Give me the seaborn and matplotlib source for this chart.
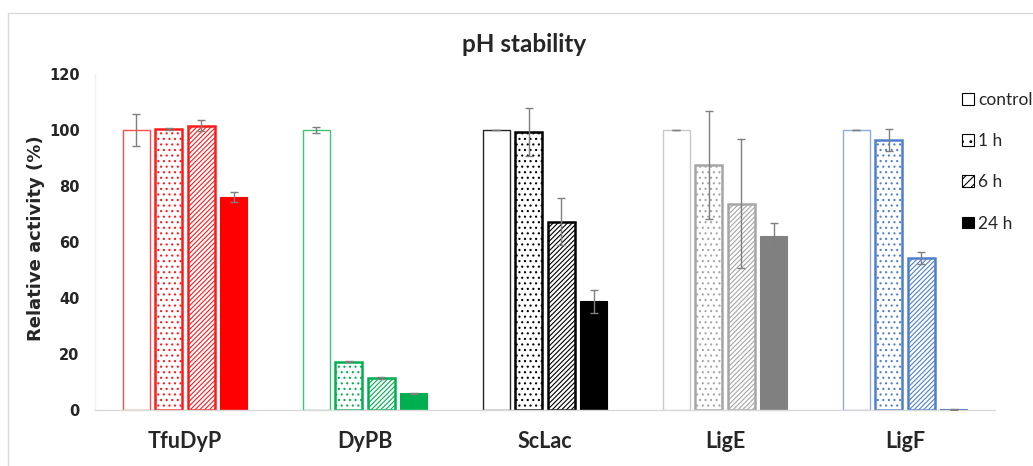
import numpy as np
import pandas as pd
import matplotlib
matplotlib.use("Agg")
import matplotlib.pyplot as plt
from matplotlib.patches import Patch, Rectangle
import seaborn as sns

# Relative activity (%) after incubation, per enzyme and time point
enzymes = ["TfuDyP", "DyPB", "ScLac", "LigE", "LigF"]
times = ["control", "1 h", "6 h", "24 h"]

activity_control = [100.0, 99.9, 100.0, 100.0, 100.0]
activity_1h = [100.3, 17.3, 99.3, 87.4, 96.3]
activity_6h = [101.5, 11.5, 67.3, 73.7, 54.3]
activity_24h = [76.1, 6.0, 38.8, 62.3, 0.3]

sd_control = [5.8, 1.0, 0.0, 0.0, 0.0]
sd_1h = [0.3, 0.3, 8.5, 19.3, 3.9]
sd_6h = [2.0, 0.3, 8.5, 23.0, 2.2]
sd_24h = [1.7, 0.2, 4.2, 4.6, 0.2]

y_ticks = [0, 20, 40, 60, 80, 100, 120]

# per-enzyme colours: solid fill, control outline, patterned outline/hatch
fill_colors = ["#FF0000", "#00B050", "#000000", "#808080", "#4472C4"]
control_edges = ["#FF4D4D", "#3DC27A", "#262626", "#C8C8C8", "#8FAADC"]
pattern_edges = ["#FF1A1A", "#00B050", "#000000", "#A6A6A6", "#4F7FCC"]
hatches = [None, "...", "///////", None]

activities = [activity_control, activity_1h, activity_6h, activity_24h]
sds = [sd_control, sd_1h, sd_6h, sd_24h]

rows = []
for t, vals, errs in zip(times, activities, sds):
    for e, v, s in zip(enzymes, vals, errs):
        rows.append({"enzyme": e, "time": t, "activity": v, "sd": s})
df = pd.DataFrame(rows)

sns.set_theme(style="white")
plt.rcParams["hatch.linewidth"] = 0.8

W, H = 1033, 466
fig = plt.figure(figsize=(W / 100, H / 100), dpi=100)
fig.patch.set_facecolor("white")
ax = fig.add_axes([95 / W, 1 - 410 / H, 900 / W, 336 / H])

sns.barplot(data=df, x="enzyme", y="activity", hue="time",
            order=enzymes, hue_order=times, width=0.72, gap=0.17,
            errorbar=None, legend=False, ax=ax)

# identify each bar by category and position within its group
bars = [p for p in ax.patches if p.get_width() > 0]
by_cat = {}
for p in bars:
    cx = p.get_x() + p.get_width() / 2
    by_cat.setdefault(int(round(cx)), []).append(p)

err_x, err_y, err_s = [], [], []
for ci, plist in by_cat.items():
    plist.sort(key=lambda p: p.get_x())
    for hi, p in enumerate(plist):
        if hi == 0:
            p.set_facecolor("white")
            p.set_edgecolor(control_edges[ci])
            p.set_linewidth(1.0)
        elif hi in (1, 2):
            p.set_facecolor("white")
            p.set_edgecolor(pattern_edges[ci])
            p.set_hatch(hatches[hi])
            p.set_linewidth(1.8)
        else:
            p.set_facecolor(fill_colors[ci])
            p.set_edgecolor(fill_colors[ci])
            p.set_linewidth(0.8)
        err_x.append(p.get_x() + p.get_width() / 2)
        err_y.append(p.get_height())
        err_s.append(sds[hi][ci])

ax.errorbar(err_x, err_y, yerr=err_s, fmt="none", ecolor="#7F7F7F",
            elinewidth=1.0, capsize=3, capthick=1.0, zorder=5)

ax.set_ylim(0, 120)
ax.set_xlim(-0.5, len(enzymes) - 0.5)
ax.set_yticks(y_ticks)
ax.set_yticklabels([str(v) for v in y_ticks], fontsize=10.5,
                   fontweight="bold", family="DejaVu Sans")
ax.set_xticks(range(len(enzymes)))
ax.set_xticklabels(enzymes, fontsize=15.5, fontweight="bold", family="Lato")
ax.tick_params(axis="x", length=0, pad=15)
ax.tick_params(axis="y", length=0, pad=11)
ax.set_xlabel("")
ax.set_ylabel("Relative activity (%)", fontsize=13, fontweight="bold",
              family="DejaVu Sans")
ax.yaxis.set_label_coords(-0.055, 0.51)

for side in ("top", "right"):
    ax.spines[side].set_visible(False)
ax.spines["left"].set_color("#F0F0F0")
ax.spines["left"].set_linewidth(1.0)
ax.spines["bottom"].set_color("#D9D9D9")
ax.spines["bottom"].set_linewidth(1.0)
ax.grid(False)

fig.text(524 / W, 1 - 45 / H, "pH stability", ha="center", va="center",
         fontsize=17.5, fontweight="bold", family="Lato")

handles = [
    Patch(facecolor="white", edgecolor="black", linewidth=0.8),
    Patch(facecolor="white", edgecolor="black", hatch="..", linewidth=0.8),
    Patch(facecolor="white", edgecolor="black", hatch="////", linewidth=0.8),
    Patch(facecolor="black", edgecolor="black", linewidth=0.8),
]
fig.legend(handles, times, loc="upper left",
           bbox_to_anchor=(962 / W, 1 - 92 / H), frameon=False,
           prop={"family": "Lato", "size": 12.5}, borderpad=0,
           borderaxespad=0, labelspacing=1.45, handlelength=0.67,
           handleheight=0.67, handletextpad=0.25)

# outer chart frame
fig.patches.append(Rectangle((8 / W, -0.1), 2.0, (1 - 13 / H) + 0.1,
                             transform=fig.transFigure, fill=False,
                             edgecolor="#D9D9D9", linewidth=1.0))

fig.savefig("out.png", dpi=100)
